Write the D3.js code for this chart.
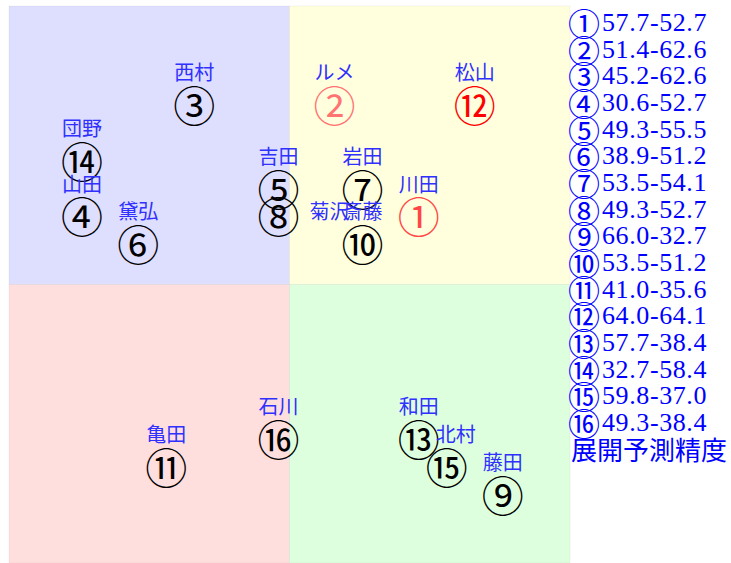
<!DOCTYPE html>
<html>
<head>
<meta charset="utf-8">
<script src="https://cdn.jsdelivr.net/npm/d3@7"></script>
<style>
  body { margin: 0; background: #fff; }
  svg { display: block; }
</style>
</head>
<body>
<svg></svg>
<script>
// horse names, numbered ① .. ⑯
const names = ["川田", "ルメ", "西村", "山田", "吉田", "黛弘", "岩田", "菊沢",
               "藤田", "斎藤", "亀田", "松山", "和田", "団野", "北村", "石川"];
const xVals = [57.7, 51.4, 45.2, 30.6, 49.3, 38.9, 53.5, 49.3,
               66.0, 53.5, 41.0, 64.0, 57.7, 32.7, 59.8, 49.3];
const yVals = [52.7, 62.6, 62.6, 52.7, 55.5, 51.2, 54.1, 52.7,
               32.7, 51.2, 35.6, 64.1, 38.4, 58.4, 37.0, 38.4];
// emphasis: 0 none, 1 weak, 2 medium, 3 strong
const marks = [2, 1, 0, 0, 0, 0, 0, 0, 0, 0, 0, 3, 0, 0, 0, 0];
const title = "展開予測精度";

const width = 731, height = 563;
const svg = d3.select("svg").attr("width", width).attr("height", height);

// 20 x 20 grid over the plot area
const gx = d3.scaleLinear().domain([0, 20]).range([9, 570]);
const gy = d3.scaleLinear().domain([0, 20]).range([6, 563]);

// value -> grid units (warped around 50)
const xs = d3.scaleLinear()
  .domain([30, 35, 40, 45, 50, 55, 60, 65, 70])
  .range([2, 3, 5, 6, 10, 13.8, 15.9, 17, 19]);
const ys = d3.scaleLinear()
  .domain([30, 35, 40, 50, 55, 60, 65, 70])
  .range([18.2, 17, 14.8, 9.8, 6.2, 4.5, 3, 1.5]);

const markColor = d3.scaleOrdinal().domain([0, 1, 2, 3])
  .range(["#000000", "#ff7373", "#ff4545", "#ff0000"]);

const quads = [
  { c: [0, 10], r: [0, 10], fill: "#dedeff" },
  { c: [10, 20], r: [0, 10], fill: "#ffffde" },
  { c: [0, 10], r: [10, 20], fill: "#ffdede" },
  { c: [10, 20], r: [10, 20], fill: "#deffde" }
];

svg.selectAll(".quad").data(quads).join("rect")
  .attr("class", "quad")
  .attr("x", d => gx(d.c[0]))
  .attr("y", d => gy(d.r[0]))
  .attr("width", d => gx(d.c[1]) - gx(d.c[0]))
  .attr("height", d => gy(d.r[1]) - gy(d.r[0]))
  .attr("fill", d => d.fill)
  .attr("stroke", "rgba(0,0,0,0.04)");

const numSize = 42, nameSize = 20, half = 17;
const circled = i => String.fromCharCode(0x2460 + i);

const pts = names.map((name, i) => {
  const col = Math.floor(xs(xVals[i]));
  const row = Math.floor(ys(yVals[i]));
  return { i, name, col, row, cx: gx(col) + half, cy: gy(row + 0.5), mark: marks[i] };
});

const occupied = new Set(pts.map(p => p.col + "," + p.row));

svg.selectAll(".num").data(pts).join("text")
  .attr("class", "num")
  .attr("x", d => d.cx)
  .attr("y", d => d.cy)
  .attr("text-anchor", "middle")
  .attr("dominant-baseline", "central")
  .attr("font-family", "'Noto Sans CJK JP', sans-serif")
  .attr("font-size", numSize)
  .attr("fill", d => markColor(d.mark))
  .text(d => circled(d.i));

const labels = svg.selectAll(".name").data(pts).join("text")
  .attr("class", "name")
  .attr("dominant-baseline", "central")
  .attr("font-family", "'Noto Sans CJK JP', sans-serif")
  .attr("font-size", nameSize)
  .attr("fill", "#3030ff")
  .text(d => d.name);

// simple label placement: above the number, nudged if it hits another number
labels.each(function(d) {
  const w = this.getComputedTextLength();
  let left, y;
  if (occupied.has(d.col + "," + (d.row - 1))) {
    left = d.cx + half + 14;
    y = gy(d.row + 0.5) - 4;
  } else {
    left = d.cx - w / 2;
    y = gy(d.row - 0.5) - 4;
    pts.filter(q => q.row === d.row - 1).forEach(q => {
      if (left < q.cx + half && left + w > q.cx - half) left = q.cx + half;
    });
  }
  d3.select(this).attr("x", left).attr("y", y);
});

// legend on the right
const ly = d3.scaleLinear().domain([0, 1]).range([22, 22 + 26.67]);

const leg = svg.selectAll(".leg").data(pts).join("text")
  .attr("class", "leg")
  .attr("x", 568)
  .attr("y", (d, i) => ly(i))
  .attr("dominant-baseline", "central")
  .attr("fill", "#0000ff");

leg.append("tspan")
  .attr("font-family", "'Noto Sans CJK JP', sans-serif")
  .attr("font-size", 32)
  .text(d => circled(d.i));

leg.append("tspan")
  .attr("dx", 2)
  .attr("font-family", "'Liberation Serif', serif")
  .attr("font-size", 26)
  .attr("letter-spacing", 0.6)
  .text(d => xVals[d.i].toFixed(1) + "-" + yVals[d.i].toFixed(1));

svg.append("text")
  .attr("x", 571)
  .attr("y", ly(pts.length))
  .attr("dominant-baseline", "central")
  .attr("font-family", "'Noto Sans CJK JP', serif")
  .attr("font-size", 26)
  .attr("fill", "#0000ff")
  .text(title);
</script>
</body>
</html>
